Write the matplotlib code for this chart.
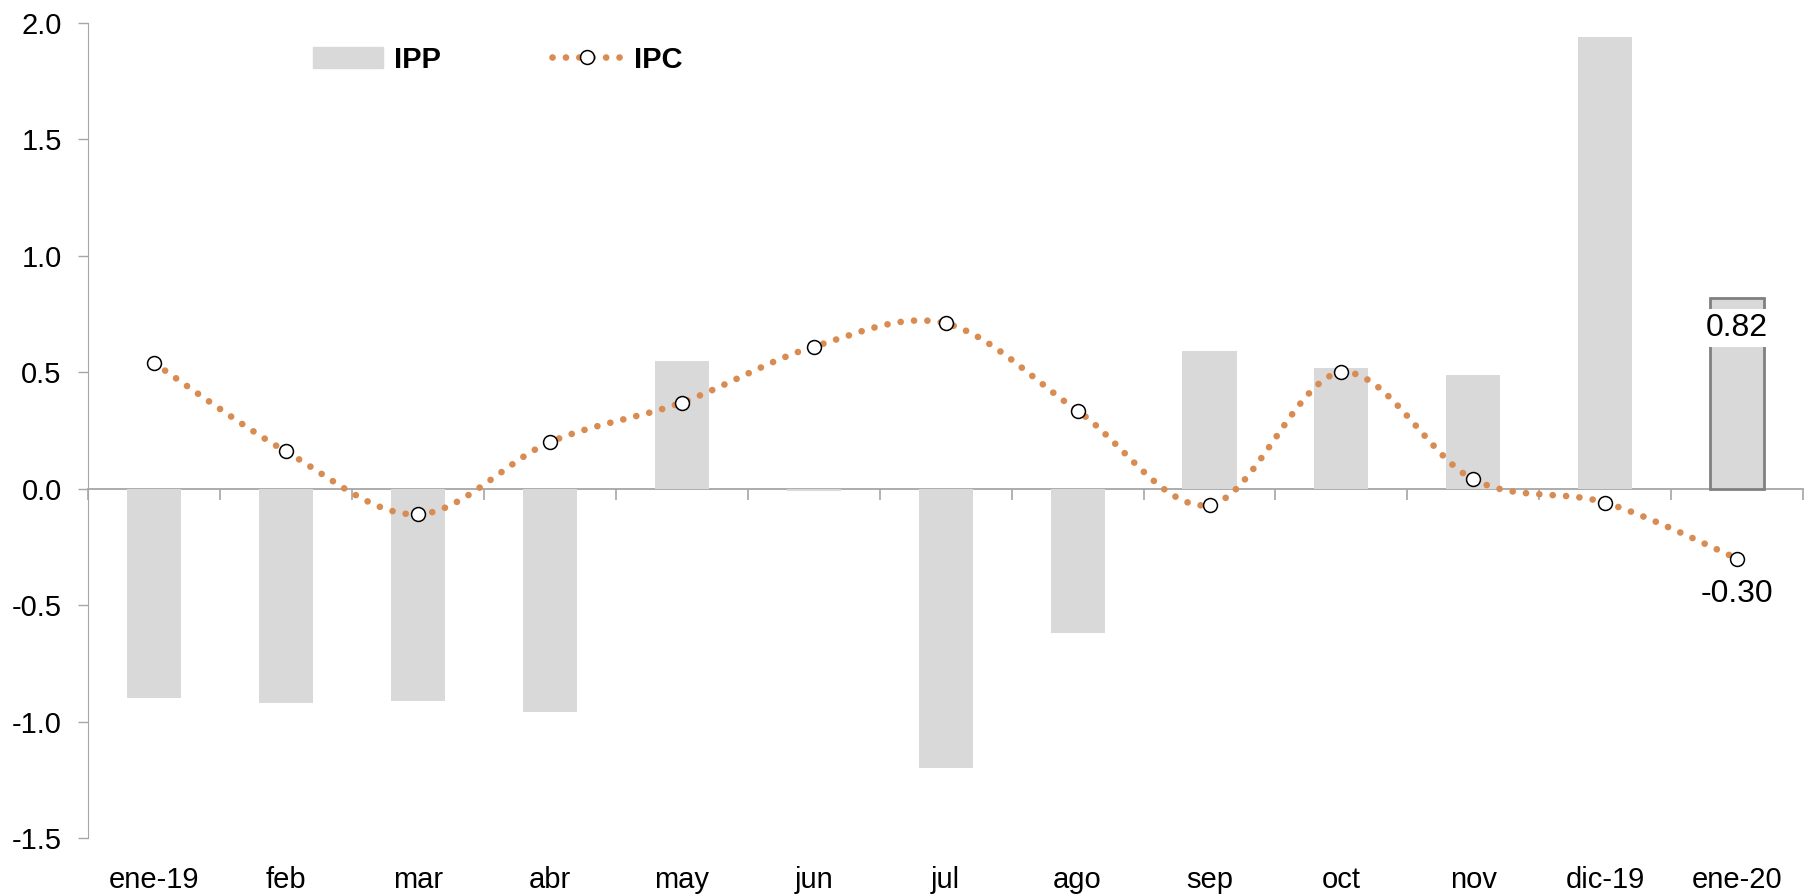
"""IPP vs IPC monthly variation chart, out.png."""

import matplotlib

matplotlib.use("Agg")
import matplotlib.pyplot as plt
import numpy as np
from matplotlib import font_manager

MONTHS = ["ene-19", "feb", "mar", "abr", "may", "jun", "jul",
          "ago", "sep", "oct", "nov", "dic-19", "ene-20"]
IPP = [-0.90, -0.92, -0.91, -0.96, 0.55, -0.01, -1.20,
       -0.62, 0.59, 0.52, 0.49, 1.94, 0.82]
IPC = [0.54, 0.16, -0.11, 0.20, 0.37, 0.61, 0.71,
       0.335, -0.07, 0.50, 0.04, -0.06, -0.30]

BAR_COLOR = "#D9D9D9"
LINE_COLOR = "#D98C52"
AXIS_COLOR = "#A6A6A6"
DOTS = (0, (0.01, 2.0))

names = {f.name for f in font_manager.fontManager.ttflist}
FAMILY = [f for f in ["Liberation Sans Narrow", "Liberation Sans"] if f in names] + ["DejaVu Sans"]
plt.rcParams["font.family"] = FAMILY


def smooth(xs, ys, n=30):
    # Excel-style smoothed line: Bezier segments with Catmull-Rom controls
    p = np.column_stack([xs, ys]).astype(float)
    out = []
    for i in range(len(p) - 1):
        p0 = p[i - 1] if i > 0 else p[i]
        p3 = p[i + 2] if i + 2 < len(p) else p[i + 1]
        c1 = p[i] + (p[i + 1] - p0) / 6
        c2 = p[i + 1] - (p3 - p[i]) / 6
        t = np.linspace(0, 1, n)[:, None]
        seg = ((1 - t) ** 3 * p[i] + 3 * (1 - t) ** 2 * t * c1
               + 3 * (1 - t) * t ** 2 * c2 + t ** 3 * p[i + 1])
        out.append(seg if i == 0 else seg[1:])
    out = np.vstack(out)
    return out[:, 0], out[:, 1]


def main():
    fig = plt.figure(figsize=(18.05, 8.96), dpi=100)
    ax = fig.add_axes([0.0488, 0.0647, 0.9502, 0.9096])
    x = np.arange(len(MONTHS))

    bars = ax.bar(x, IPP, width=0.41, color=BAR_COLOR, zorder=1, label="IPP")
    bars[-1].set_edgecolor("#808080")
    bars[-1].set_linewidth(2)

    sx, sy = smooth(x, IPC)
    ax.plot(sx, sy, color=LINE_COLOR, lw=4.8, linestyle=DOTS,
            dash_capstyle="round", zorder=3)
    ax.plot(x, IPC, linestyle="none", marker="o", ms=10, mfc="white",
            mec="black", mew=1.1, zorder=4)

    ax.text(x[-1], IPP[-1] - 0.13, f"{IPP[-1]:.2f}", ha="center", va="center",
            fontsize=23, zorder=5,
            bbox=dict(boxstyle="square,pad=0.12", fc="white", ec="none"))
    ax.text(x[-1], IPC[-1] - 0.15, f"{IPC[-1]:.2f}", ha="center", va="center",
            fontsize=23, zorder=5)

    ax.set_xlim(-0.5, len(MONTHS) - 0.5)
    ax.set_ylim(-1.5, 2.0)
    ax.set_yticks(np.arange(-1.5, 2.01, 0.5))
    ax.set_yticklabels([f"{v:.1f}" for v in np.arange(-1.5, 2.01, 0.5)])
    ax.tick_params(axis="y", length=7, width=1, color=AXIS_COLOR, pad=12,
                   labelsize=21)
    ax.set_xticks(x)
    ax.set_xticklabels(MONTHS)
    ax.tick_params(axis="x", length=0, pad=20, labelsize=21)

    for s in ["top", "right", "bottom"]:
        ax.spines[s].set_visible(False)
    ax.spines["left"].set_color(AXIS_COLOR)

    # category axis sits on zero
    zero = 1.5 / 3.5
    sec = ax.secondary_xaxis(zero)
    sec.set_xticks(np.arange(-0.5, len(MONTHS), 1.0))
    sec.set_xticklabels([])
    sec.tick_params(length=8, width=1.2, color=AXIS_COLOR, direction="out")
    sec.spines["bottom"].set_color(AXIS_COLOR)
    sec.spines["bottom"].set_linewidth(1.3)

    handles = [
        plt.Rectangle((0, 0), 1, 1, color=BAR_COLOR),
        plt.Line2D([], [], color=LINE_COLOR, lw=4.8, linestyle=DOTS,
                   dash_capstyle="round", marker="o", ms=10, mfc="white",
                   mec="black", mew=1.1, markevery=[1]),
    ]
    ax.legend(handles, ["IPP", "IPC"], ncol=2, frameon=False,
              loc="center left", bbox_to_anchor=(0.131, 0.955),
              borderpad=0, borderaxespad=0, handlelength=2.4,
              handletextpad=0.4, columnspacing=3.8,
              prop={"weight": "bold", "size": 21})

    fig.savefig("out.png", dpi=100, facecolor="white")
    plt.close(fig)


if __name__ == "__main__":
    main()
